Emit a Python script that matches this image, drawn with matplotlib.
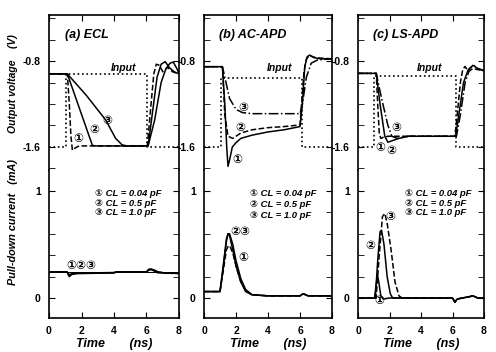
import matplotlib
matplotlib.use('Agg')
import matplotlib.pyplot as plt
from matplotlib.ticker import MultipleLocator

plt.rcParams['font.family'] = ['Liberation Sans', 'DejaVu Sans', 'Noto Sans CJK JP']
plt.rcParams['font.weight'] = 'bold'

# ---------------- data (time in ns, voltage in V, current in mA) ----------------
# (a) ECL
a_t_in = [0, 1.03, 1.03, 6.05, 6.05, 8]
a_v_in = [-1.6, -1.6, -0.92, -0.92, -1.6, -1.6]
a_t1 = [0, 1.13, 1.25, 1.35, 1.44, 1.6, 1.85, 6.05, 6.25, 6.45, 6.6, 6.8, 7.0, 7.3, 7.6, 8]
a_v1 = [-0.92, -0.92, -1.2, -1.5, -1.63, -1.61, -1.59, -1.59, -1.25, -0.92, -0.83, -0.84, -0.9, -0.86, -0.9, -0.92]
a_t2 = [0, 1.13, 2.67, 2.9, 6.1, 6.35, 6.65, 6.9, 7.15, 7.4, 7.7, 8]
a_v2 = [-0.92, -0.92, -1.585, -1.59, -1.59, -1.3, -0.95, -0.83, -0.806, -0.86, -0.9, -0.92]
a_t3 = [0, 1.13, 2.3, 3.49, 4.1, 4.5, 4.8, 6.1, 6.5, 6.9, 7.2, 7.45, 7.65, 7.9, 8]
a_v3 = [-0.92, -0.92, -1.12, -1.349, -1.52, -1.58, -1.59, -1.59, -1.35, -1.0, -0.87, -0.82, -0.81, -0.88, -0.92]
a_ti = [0, 1.1, 1.25, 1.4, 1.7, 2.5, 4.0, 4.2, 6.0, 6.15, 6.3, 6.5, 6.7, 6.9, 7.2, 7.5, 7.8, 8]
a_i1 = [0.245, 0.245, 0.2, 0.22, 0.228, 0.23, 0.235, 0.245, 0.245, 0.27, 0.265, 0.25, 0.235, 0.24, 0.23, 0.235, 0.23, 0.23]
a_i2 = [0.245, 0.245, 0.21, 0.225, 0.23, 0.232, 0.236, 0.245, 0.245, 0.265, 0.27, 0.255, 0.24, 0.235, 0.235, 0.23, 0.232, 0.23]
a_i3 = [0.245, 0.245, 0.215, 0.228, 0.232, 0.234, 0.238, 0.245, 0.245, 0.26, 0.268, 0.26, 0.245, 0.238, 0.232, 0.236, 0.23, 0.23]

# (b) AC-APD
b_t_in = [0, 1.04, 1.04, 6.1, 6.1, 8]
b_v_in = [-1.6, -1.6, -0.96, -0.96, -1.6, -1.6]
b_t1 = [0, 1.15, 1.3, 1.42, 1.5, 1.6, 1.77, 2.0, 2.3, 3, 4, 5, 6.0, 6.15, 6.3, 6.45, 6.6, 6.9, 7.3, 8]
b_v1 = [-0.853, -0.853, -1.2, -1.6, -1.78, -1.72, -1.6, -1.56, -1.52, -1.49, -1.46, -1.44, -1.41, -1.2, -0.85, -0.76, -0.745, -0.77, -0.78, -0.78]
b_t2 = [0, 1.15, 1.3, 1.5, 1.8, 2.3, 3, 4, 5, 6.0, 6.1, 6.25, 6.4, 6.6, 7, 8]
b_v2 = [-0.853, -0.853, -1.3, -1.5, -1.52, -1.47, -1.44, -1.42, -1.41, -1.395, -1.2, -0.9, -0.78, -0.75, -0.77, -0.78]
b_t3 = [0, 1.15, 1.3, 1.6, 2.0, 2.4, 3, 6.0, 6.15, 6.4, 6.7, 7.1, 8]
b_v3 = [-0.853, -0.853, -0.95, -1.15, -1.25, -1.28, -1.29, -1.29, -1.2, -0.95, -0.82, -0.79, -0.78]
b_ti = [0, 1.0, 1.2, 1.4, 1.5, 1.6, 1.8, 2.0, 2.3, 2.6, 3.0, 4, 6, 6.2, 6.5, 8]
b_i1 = [0.06, 0.06, 0.25, 0.45, 0.48, 0.49, 0.42, 0.3, 0.15, 0.07, 0.03, 0.02, 0.02, 0.04, 0.02, 0.02]
b_i2 = [0.06, 0.06, 0.3, 0.55, 0.6, 0.58, 0.45, 0.3, 0.15, 0.06, 0.03, 0.02, 0.02, 0.04, 0.02, 0.02]
b_i3 = [0.06, 0.06, 0.28, 0.53, 0.6, 0.6, 0.5, 0.35, 0.18, 0.08, 0.03, 0.02, 0.02, 0.04, 0.02, 0.02]

# (c) LS-APD
c_t_in = [0, 1.02, 1.02, 6.24, 6.24, 8]
c_v_in = [-1.6, -1.6, -0.937, -0.937, -1.6, -1.6]
c_t1 = [0, 1.16, 1.25, 1.35, 1.45, 1.6, 1.9, 6.15, 6.3, 6.5, 6.65, 6.8, 7.0, 7.3, 7.6, 8]
c_v1 = [-0.915, -0.915, -1.2, -1.47, -1.52, -1.51, -1.5, -1.5, -1.3, -1.0, -0.88, -0.85, -0.9, -0.87, -0.88, -0.89]
c_t2 = [0, 1.16, 1.4, 1.7, 1.9, 2.2, 2.6, 3.2, 6.2, 6.4, 6.7, 7.0, 7.3, 7.6, 8]
c_v2 = [-0.915, -0.915, -1.2, -1.5, -1.556, -1.54, -1.52, -1.5, -1.5, -1.3, -1.0, -0.88, -0.84, -0.87, -0.89]
c_t3 = [0, 1.16, 1.5, 1.9, 2.15, 2.5, 3.2, 6.25, 6.5, 6.8, 7.1, 7.35, 7.6, 8]
c_v3 = [-0.915, -0.915, -1.15, -1.4, -1.5, -1.52, -1.5, -1.5, -1.3, -1.0, -0.87, -0.84, -0.87, -0.89]
c_ti1 = [0, 1.05, 1.15, 1.23, 1.32, 1.45, 1.6, 2, 4, 6.0, 6.15, 6.3, 6.6, 7.0, 7.3, 7.6, 8]
c_i1 = [0, 0, 0.12, 0.22, 0.15, 0.02, -0.01, 0, 0, 0, -0.04, -0.01, 0, 0.01, 0.02, 0, 0]
c_ti2 = [0, 1.1, 1.25, 1.4, 1.5, 1.65, 1.85, 2.05, 2.2, 2.5, 4, 6.0, 6.15, 6.3, 7.0, 7.3, 7.6, 8]
c_i2 = [0, 0, 0.35, 0.62, 0.63, 0.5, 0.2, 0.04, 0, 0, 0, 0, -0.04, -0.01, 0.01, 0.02, 0, 0]
c_ti3 = [0, 1.15, 1.35, 1.55, 1.7, 1.85, 2.1, 2.35, 2.6, 2.8, 4, 6.0, 6.15, 6.3, 7.0, 7.3, 7.6, 8]
c_i3 = [0, 0, 0.4, 0.76, 0.79, 0.7, 0.45, 0.15, 0.02, 0, 0, 0, -0.035, -0.01, 0.01, 0.02, 0, 0]

panel_titles = ['(a) ECL', '(b) AC-APD', '(c) LS-APD']
legend_lines = ['\u2460 CL = 0.04 pF', '\u2461 CL = 0.5 pF', '\u2462 CL = 1.0 pF']

# ---------------- figure ----------------
fig = plt.figure(figsize=(4.96, 3.52), dpi=100)
W, H = 496.0, 352.0
lefts = [49, 204, 358]
widths = [130, 128, 126]

panels = [
    dict(tin=a_t_in, vin=a_v_in, v=[(a_t1, a_v1, '--'), (a_t2, a_v2, '-'), (a_t3, a_v3, '-')],
         i=[(a_ti, a_i1, '-'), (a_ti, a_i2, '-'), (a_ti, a_i3, '-')],
         vlab=[('\u2460', 1.8, -1.53), ('\u2461', 2.81, -1.44), ('\u2462', 3.59, -1.358)],
         ilab=[('\u2460\u2461\u2462', 2.0, 0.3)], leg=(2.85, [0.975, 0.885, 0.795]), inp=4.6),
    dict(tin=b_t_in, vin=b_v_in, v=[(b_t1, b_v1, '-'), (b_t2, b_v2, '--'), (b_t3, b_v3, '-.')],
         i=[(b_ti, b_i1, '--'), (b_ti, b_i2, '-'), (b_ti, b_i3, '-')],
         vlab=[('\u2460', 2.08, -1.72), ('\u2461', 2.29, -1.426), ('\u2462', 2.46, -1.24)],
         ilab=[('\u2461\u2462', 2.25, 0.62), ('\u2460', 2.45, 0.37)], leg=(2.9, [0.975, 0.875, 0.775]), inp=4.7),
    dict(tin=c_t_in, vin=c_v_in, v=[(c_t1, c_v1, '--'), (c_t2, c_v2, '-'), (c_t3, c_v3, '-.')],
         i=[(c_ti1, c_i1, '-'), (c_ti2, c_i2, '-'), (c_ti3, c_i3, '--')],
         vlab=[('\u2460', 1.44, -1.61), ('\u2461', 2.12, -1.64), ('\u2462', 2.44, -1.426)],
         ilab=[('\u2460', 1.36, -0.03), ('\u2461', 0.76, 0.49), ('\u2462', 2.07, 0.76)], leg=(2.98, [0.975, 0.885, 0.795]), inp=4.57),
]

for k, p in enumerate(panels):
    x0 = lefts[k] / W
    w = widths[k] / W
    axv = fig.add_axes([x0, 1 - 170 / H, w, 155 / H])
    axi = fig.add_axes([x0, 1 - 318 / H, w, 148 / H], sharex=axv)

    # voltage part
    axv.plot(p['tin'], p['vin'], color='black', linestyle=':', linewidth=1.2)
    for t, v, ls in p['v']:
        axv.plot(t, v, color='black', linestyle=ls, linewidth=1.1)
    axv.set_xlim(0, 8)
    axv.set_ylim(-1.814, -0.372)
    axv.set_yticks([-1.6, -0.8])
    axv.set_yticklabels(['-1.6', '-0.8'])
    axv.yaxis.set_minor_locator(MultipleLocator(0.2))
    axv.set_xticks([0, 2, 4, 6, 8])
    axv.spines['bottom'].set_visible(False)
    axv.tick_params(axis='x', which='both', direction='in', top=True, bottom=False, labelbottom=False, length=4)
    axv.tick_params(axis='y', which='both', direction='in', left=True, right=True, length=4, labelsize=7.5, pad=6)
    axv.text(0.12, 0.85, panel_titles[k], transform=axv.transAxes, fontsize=9, fontweight='bold', style='italic')
    axv.text(p['inp'], -0.865, 'Input', fontsize=7.5, fontweight='bold', style='italic', ha='center', va='center')
    for s, tx, vy in p['vlab']:
        axv.text(tx, vy, s, fontsize=8.5, ha='center', va='center')

    # current part
    if k == 0:
        axi.axhline(0.245, color='black', linewidth=0.7)
    for t, cur, ls in p['i']:
        axi.plot(t, cur, color='black', linestyle=ls, linewidth=1.1)
    axi.set_ylim(-0.187, 1.196)
    axi.set_yticks([0, 1])
    axi.set_yticklabels(['0', '1'])
    axi.yaxis.set_minor_locator(MultipleLocator(0.2))
    axi.spines['top'].set_visible(False)
    axi.tick_params(axis='x', which='both', direction='in', top=False, bottom=True, length=4, labelsize=7.5, pad=6)
    axi.tick_params(axis='y', which='both', direction='in', left=True, right=True, length=4, labelsize=7.5, pad=6)
    axi.set_xticks([0, 2, 4, 6, 8])
    axi.set_xlabel('Time       (ns)', fontsize=9, fontweight='bold', style='italic', labelpad=1)
    for s, tx, iy in p['ilab']:
        axi.text(tx, iy, s, fontsize=8.5, ha='center', va='center')
    lx, lys = p['leg']
    for line, ly in zip(legend_lines, lys):
        axi.text(lx, ly, line, fontsize=6.8, fontweight='bold', style='italic', va='center')

    for ax in (axv, axi):
        for sp in ax.spines.values():
            sp.set_linewidth(1.2)

    if k == 0:
        axv.set_ylabel('Output voltage    (V)', fontsize=7.5, fontweight='bold', style='italic')
        axv.yaxis.set_label_coords(-0.24, 0.56)
        axi.set_ylabel('Pull-down current   (mA)', fontsize=7.8, fontweight='bold', style='italic')
        axi.yaxis.set_label_coords(-0.24, 0.65)

fig.savefig('out.png', dpi=100)
